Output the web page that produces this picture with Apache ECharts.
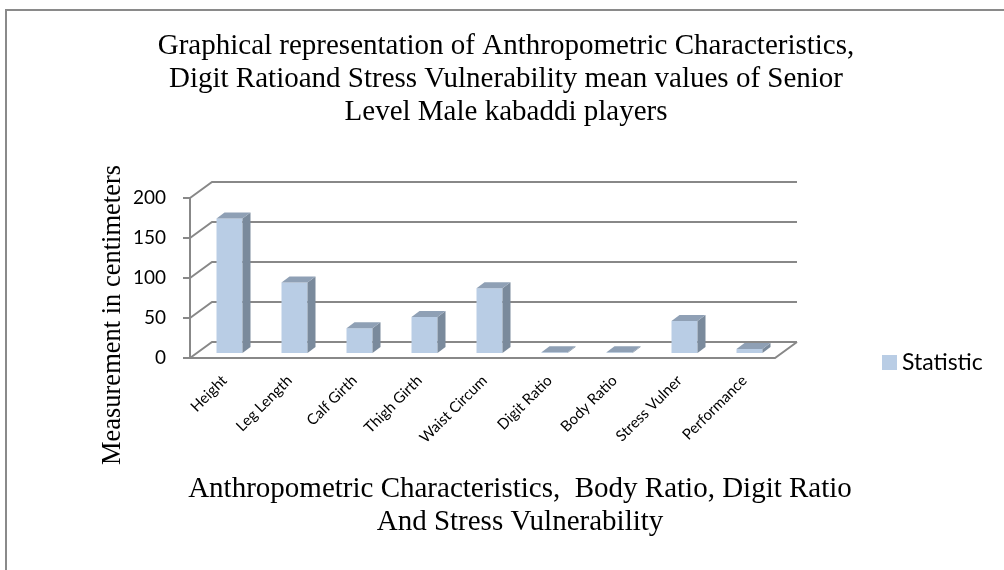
<!DOCTYPE html>
<html>
<head>
<meta charset="utf-8">
<script src="https://cdn.jsdelivr.net/npm/echarts@6/dist/echarts.min.js"></script>
<style>
html, body { margin: 0; padding: 0; background: #fff; }
#main { width: 1004px; height: 570px; }
</style>
</head>
<body>
<div id="main"></div>
<script>
var categories = ['Height', 'Leg Length', 'Calf Girth', 'Thigh Girth', 'Waist Circum',
    'Digit Ratio', 'Body Ratio', 'Stress Vulner', 'Performance'];
var statistic = [168, 88, 31, 45, 81, 0.95, 0.93, 40, 5];
var yTicks = [0, 50, 100, 150, 200];

var DX = 22, DY = -16;   // depth of the 3d box
var gridColor = '#888888';

function renderWalls(params, api) {
    var cs = params.coordSys;
    var v = api.value(1);
    var y = api.coord([0, v])[1];
    var x0 = cs.x, x1 = cs.x + cs.width;
    var children = [{
        type: 'polyline',
        shape: { points: [[x0, y], [x0 + DX, y + DY], [x1 + DX, y + DY]] },
        style: { stroke: gridColor, lineWidth: 2, fill: null }
    }];
    if (v === 0) {
        children.push({
            type: 'polyline',
            shape: { points: [[x0, y], [x1, y], [x1 + DX, y + DY]] },
            style: { stroke: gridColor, lineWidth: 2, fill: null }
        });
    }
    return { type: 'group', children: children };
}

function renderBar(params, api) {
    var idx = api.value(0);
    var base = api.coord([idx, 0]);
    var top = api.coord([idx, api.value(1)]);
    var bw = api.size([1, 0])[0] * 0.4;
    var cx = base[0] + 7, yb = base[1] - 5, yt = top[1] - 5;
    var xl = cx - bw / 2, xr = cx + bw / 2;
    var sx = 8, sy = -6;
    return {
        type: 'group',
        children: [
            { type: 'rect', shape: { x: xl, y: yt, width: bw, height: yb - yt },
              style: { fill: '#B9CDE5' } },
            { type: 'polygon', shape: { points: [[xr, yb], [xr, yt], [xr + sx, yt + sy], [xr + sx, yb + sy]] },
              style: { fill: '#7A8A9C' } },
            { type: 'polygon', shape: { points: [[xl, yt], [xr, yt], [xr + sx, yt + sy], [xl + sx, yt + sy]] },
              style: { fill: '#8FA0B5' } }
        ]
    };
}

var chart = echarts.init(document.getElementById('main'));
var option = {
    animation: false,
    title: {
        text: 'Graphical representation of Anthropometric Characteristics,\nDigit Ratioand Stress Vulnerability mean values of Senior\nLevel Male kabaddi players',
        left: 501,
        top: 25,
        textAlign: 'center',
        textStyle: { fontFamily: 'Liberation Serif', fontSize: 29, fontWeight: 'normal', color: '#000', lineHeight: 33 }
    },
    legend: {
        data: ['Statistic'],
        left: 877,
        top: 346,
        icon: 'rect',
        itemWidth: 15,
        itemHeight: 15,
        itemGap: 7,
        textStyle: { fontFamily: 'Lato', fontSize: 23, color: '#000' }
    },
    grid: [
        { left: 190, top: 198, width: 585, height: 160 },
        { left: 192, top: 198, width: 585, height: 160 }
    ],
    xAxis: [
        { type: 'category', data: categories, gridIndex: 0,
          axisLine: { show: false }, axisTick: { show: false }, axisLabel: { show: false } },
        { type: 'category', data: categories, gridIndex: 1,
          axisLine: { show: false }, axisTick: { show: false },
          axisLabel: { rotate: 45, margin: 20, fontFamily: 'Lato', fontSize: 15, color: '#000' } }
    ],
    yAxis: [
        { type: 'value', gridIndex: 0, min: 0, max: 200, interval: 50,
          axisLine: { show: true, lineStyle: { color: gridColor, width: 2 } },
          axisTick: { show: true, length: 7, lineStyle: { color: gridColor, width: 2 } },
          splitLine: { show: false },
          axisLabel: { margin: 24, fontFamily: 'Lato', fontSize: 19, color: '#000' } },
        { type: 'value', gridIndex: 1, min: 0, max: 200, show: false }
    ],
    graphic: [
        { type: 'line', shape: { x1: 5, y1: 10, x2: 1004, y2: 10 }, style: { stroke: '#8a8a8a', lineWidth: 2 } },
        { type: 'line', shape: { x1: 6, y1: 10, x2: 6, y2: 570 }, style: { stroke: '#8a8a8a', lineWidth: 2 } },
        { type: 'text', x: 113, y: 315, rotation: Math.PI / 2,
          style: { text: 'Measurement in centimeters', fontFamily: 'Liberation Serif', fontSize: 26.5,
                   fill: '#000', align: 'center', verticalAlign: 'middle' } },
        { type: 'text', x: 520, y: 473,
          style: { text: 'Anthropometric Characteristics,  Body Ratio, Digit Ratio\nAnd Stress Vulnerability',
                   fontFamily: 'Liberation Serif', fontSize: 29, lineHeight: 33,
                   fill: '#000', align: 'center', verticalAlign: 'top' } }
    ],
    series: [
        {
            name: 'walls', type: 'custom', xAxisIndex: 0, yAxisIndex: 0, silent: true, z: 1,
            data: yTicks.map(function (v) { return [0, v]; }),
            renderItem: renderWalls
        },
        {
            name: 'Statistic', type: 'custom', xAxisIndex: 0, yAxisIndex: 0, z: 2,
            itemStyle: { color: '#B9CDE5' },
            data: statistic.map(function (v, i) { return [i, v]; }),
            renderItem: renderBar
        }
    ]
};
chart.setOption(option);
</script>
</body>
</html>
